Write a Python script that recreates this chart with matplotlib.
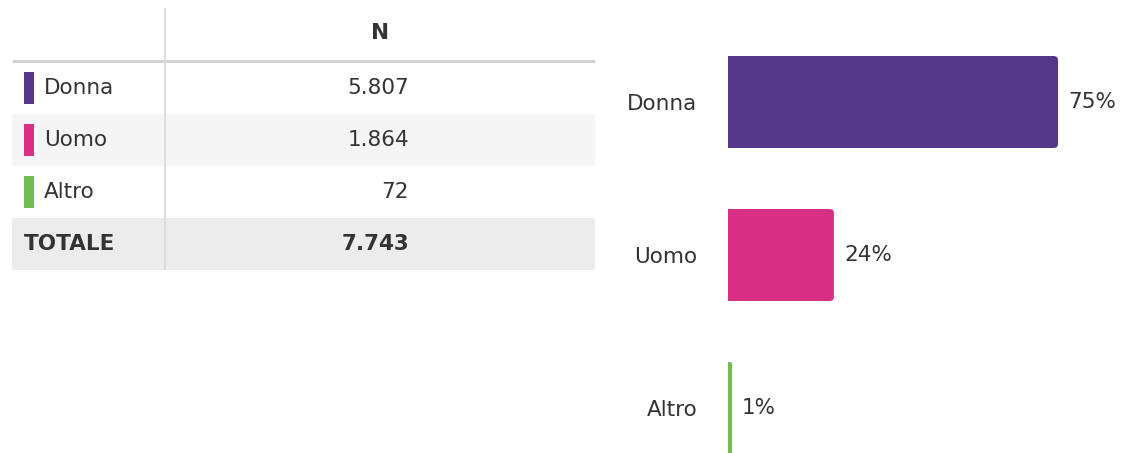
import matplotlib
matplotlib.use("Agg")
import matplotlib.pyplot as plt
from matplotlib.patches import Rectangle, FancyBboxPatch

categories = ["Donna", "Uomo", "Altro"]
counts = [5807, 1864, 72]
colors = ["#543789", "#d72f84", "#77bb55"]
total_label = "TOTALE"
column_header = "N"

W, H = 1126, 453
TEXT = "#333333"
FS = 15.5


def fmt_it(n):
    return f"{n:,}".replace(",", ".")


total = sum(counts)
pcts = [c / total * 100 for c in counts]

plt.rcParams['font.family'] = ['DejaVu Sans']
fig = plt.figure(figsize=(W / 100, H / 100), dpi=100)

# table drawn in pixel coordinates
tab = fig.add_axes([0, 0, 1, 1])
tab.set_xlim(0, W)
tab.set_ylim(H, 0)
tab.axis("off")

row_h = 52
top = 62
left, right, split = 12, 595, 165
row_bg = ["#ffffff", "#f5f5f5", "#ffffff"]

for i, (cat, n, col) in enumerate(zip(categories, counts, colors)):
    y0 = top + i * row_h
    tab.add_patch(Rectangle((left, y0), right - left, row_h, color=row_bg[i], lw=0))
    tab.add_patch(Rectangle((24, y0 + 10), 10, row_h - 20, color=col, lw=0))
    tab.text(44, y0 + row_h / 2, cat, fontsize=FS, color=TEXT, va="center", ha="left")
    tab.text(409, y0 + row_h / 2, fmt_it(n), fontsize=FS, color=TEXT, va="center", ha="right")

y0 = top + len(categories) * row_h
tab.add_patch(Rectangle((left, y0), right - left, row_h, color="#ececec", lw=0))
tab.text(24, y0 + row_h / 2, total_label, fontsize=FS, color=TEXT, va="center", ha="left",
         fontweight="bold")
tab.text(409, y0 + row_h / 2, fmt_it(total), fontsize=FS, color=TEXT, va="center", ha="right",
         fontweight="bold")

tab.text((split + right) / 2, 33, column_header, fontsize=FS, color=TEXT, va="center",
         ha="center", fontweight="bold")
tab.plot([left, right], [61, 61], color="#d0d0d0", lw=2, solid_capstyle="butt")
tab.plot([split, split], [8, y0 + row_h], color="#dddddd", lw=1.5, solid_capstyle="butt")

# bar chart
bar_x0 = 728
ax = fig.add_axes([bar_x0 / W, (H - 484.5) / H, 396 / W, 459 / H])
ax.set_xlim(0, 90)
ax.set_ylim(2.5, -0.5)
ypos = list(range(len(categories)))
bars = ax.barh(ypos, pcts, height=0.6, color=colors)

# rounded right end (about 4 px radius)
rx = 4 / 4.4
aspect = (4 / 153) / rx
for b, p, col in zip(bars, pcts, colors):
    r = min(rx, p / 2)
    b.set_width(max(p - r, 0))
    ax.add_patch(FancyBboxPatch((0, b.get_y()), p, b.get_height(),
                                boxstyle=f"round,pad=0,rounding_size={r}",
                                mutation_aspect=aspect, color=col, lw=0))
    ax.annotate(f"{round(p)}%", (p, b.get_y() + b.get_height() / 2), xytext=(10, 0),
                textcoords="offset pixels", va="center", ha="left", fontsize=FS, color=TEXT)

ax.set_yticks(ypos, categories)
ax.tick_params(axis="y", length=0, pad=22, labelsize=FS, labelcolor=TEXT)
ax.set_xticks([])
for s in ax.spines.values():
    s.set_visible(False)

fig.savefig("out.png", dpi=100)
